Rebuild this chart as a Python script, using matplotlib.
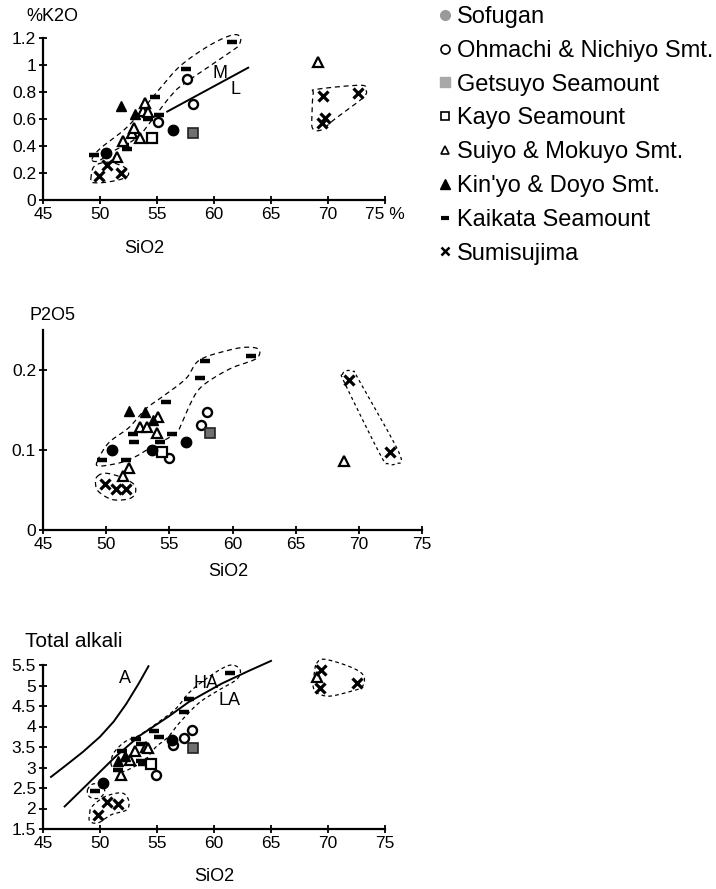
#!/usr/bin/env python3
"""Variation diagrams (K2O, P2O5, total alkali vs SiO2) for the arc volcanoes."""

import matplotlib

matplotlib.use("Agg")
import matplotlib.pyplot as plt
import numpy as np
from matplotlib.lines import Line2D

plt.rcParams["font.family"] = ["Liberation Sans", "DejaVu Sans"]

# ---- K2O panel -------------------------------------------------------------
K2O_SOFUGAN_SI = [50.5, 56.4]
K2O_SOFUGAN = [0.35, 0.52]
K2O_OHMACHI_SI = [55.1, 57.6, 58.2]
K2O_OHMACHI = [0.58, 0.90, 0.71]
K2O_GETSUYO_SI = [58.2]
K2O_GETSUYO = [0.50]
K2O_KAYO_SI = [54.6]
K2O_KAYO = [0.46]
K2O_SUIYO_SI = [51.45, 52.0, 52.8, 53.0, 53.5, 53.8, 53.95, 54.2, 69.15]
K2O_SUIYO = [0.315, 0.44, 0.50, 0.53, 0.46, 0.66, 0.72, 0.655, 1.02]
K2O_KINYO_SI = [51.8, 53.1]
K2O_KINYO = [0.70, 0.64]
K2O_KAIKATA_SI = [49.5, 52.1, 52.35, 54.2, 54.85, 55.2, 57.5, 61.6]
K2O_KAIKATA = [0.33, 0.41, 0.38, 0.60, 0.76, 0.63, 0.97, 1.17]
K2O_SUMI_SI = [49.9, 50.65, 51.8, 69.6, 72.6, 69.7, 69.45]
K2O_SUMI = [0.18, 0.26, 0.20, 0.77, 0.79, 0.61, 0.57]

ML_SI = [55.9, 63.0]
ML_K2O = [0.655, 0.98]

K2O_ENV_MAIN_SI = [49.3, 50.0, 52.5, 55.0, 57.0, 59.5, 61.5, 62.3, 62.2,
                   61.5, 57.5, 56.3, 54.9, 53.7, 52.7, 51.1, 49.9]
K2O_ENV_MAIN = [0.30, 0.38, 0.55, 0.80, 0.99, 1.14, 1.22, 1.21, 1.15,
                1.10, 0.87, 0.78, 0.63, 0.50, 0.43, 0.36, 0.29]
K2O_ENV_X_SI = [49.2, 49.5, 50.8, 52.2, 52.5, 51.9, 50.4, 49.3]
K2O_ENV_X = [0.155, 0.25, 0.28, 0.24, 0.19, 0.155, 0.13, 0.13]
K2O_ENV_R_SI = [68.7, 69.0, 72.8, 73.3, 73.1, 70.6, 69.45, 68.65, 68.6]
K2O_ENV_R = [0.79, 0.82, 0.85, 0.82, 0.76, 0.60, 0.52, 0.53, 0.64]

# ---- P2O5 panel ------------------------------------------------------------
P_SOFUGAN_SI = [50.5, 53.65, 56.35]
P_SOFUGAN = [0.100, 0.100, 0.110]
P_OHMACHI_SI = [55.0, 57.5, 58.0]
P_OHMACHI = [0.090, 0.131, 0.148]
P_GETSUYO_SI = [58.2]
P_GETSUYO = [0.121]
P_KAYO_SI = [54.45]
P_KAYO = [0.098]
P_SUIYO_SI = [51.35, 51.8, 52.7, 53.2, 54.0, 54.1, 68.8]
P_SUIYO = [0.067, 0.077, 0.129, 0.129, 0.121, 0.141, 0.086]
P_KINYO_SI = [51.8, 53.1, 53.7]
P_KINYO = [0.149, 0.148, 0.138]
P_KAIKATA_SI = [49.7, 51.55, 52.1, 52.2, 54.3, 54.7, 55.2, 57.45, 57.8, 61.45]
P_KAIKATA = [0.088, 0.088, 0.120, 0.110, 0.110, 0.160, 0.120, 0.190, 0.211, 0.218]
P_SUMI_SI = [49.9, 50.75, 51.6, 69.2, 72.5]
P_SUMI = [0.058, 0.051, 0.051, 0.188, 0.097]

P_ENV_MAIN_SI = [49.3, 50.2, 51.8, 53.1, 54.4, 56.3, 57.35, 59.5, 61.1, 62.1,
                 61.85, 60.0, 58.4, 57.35, 56.7, 56.0, 55.6, 54.7, 53.5, 52.6,
                 51.5, 50.5, 49.4]
P_ENV_MAIN = [0.086, 0.109, 0.128, 0.151, 0.166, 0.189, 0.212, 0.224, 0.2285,
              0.2255, 0.214, 0.203, 0.189, 0.176, 0.159, 0.134, 0.122, 0.113,
              0.103, 0.094, 0.086, 0.082, 0.080]
P_ENV_X_SI = [49.3, 49.95, 51.2, 52.2, 52.3, 51.8, 50.5, 49.4, 49.15]
P_ENV_X = [0.067, 0.071, 0.066, 0.057, 0.046, 0.039, 0.038, 0.048, 0.059]
P_ENV_R_SI = [68.7, 69.0, 69.6, 70.0, 73.2, 72.9, 72.3, 71.7, 68.9]
P_ENV_R = [0.194, 0.199, 0.198, 0.1875, 0.096, 0.083, 0.083, 0.094, 0.183]

# ---- Total alkali panel ----------------------------------------------------
T_SOFUGAN_SI = [50.3, 56.3]
T_SOFUGAN = [2.62, 3.68]
T_OHMACHI_SI = [54.9, 56.4, 57.4, 58.1]
T_OHMACHI = [2.82, 3.55, 3.72, 3.92]
T_GETSUYO_SI = [58.15]
T_GETSUYO = [3.47]
T_KAYO_SI = [54.5]
T_KAYO = [3.08]
T_SUIYO_SI = [51.8, 52.65, 53.1, 54.0, 54.2, 69.0]
T_SUIYO = [2.82, 3.19, 3.40, 3.51, 3.47, 5.21]
T_KINYO_SI = [51.6, 52.2]
T_KINYO = [3.17, 3.29]
T_KAIKATA_SI = [49.6, 51.55, 51.95, 53.15, 53.6, 53.6, 53.75, 54.7, 55.15,
                57.35, 57.85, 61.4]
T_KAIKATA = [2.42, 2.93, 3.41, 3.69, 3.57, 3.15, 3.08, 3.89, 3.75,
             4.36, 4.67, 5.30]
T_SUMI_SI = [50.6, 51.6, 49.85, 69.4, 69.3, 72.5]
T_SUMI = [2.17, 2.12, 1.85, 5.38, 4.95, 5.05]

A_LINE_SI = [45.7, 47.0, 48.5, 50.0, 51.2, 52.3, 53.4, 54.25]
A_LINE = [2.77, 3.05, 3.38, 3.75, 4.12, 4.55, 5.05, 5.47]
HALA_SI = [46.9, 49.0, 51.3, 53.5, 56.0, 57.8, 60.7, 63.0, 65.0]
HALA = [2.05, 2.62, 3.25, 3.78, 4.24, 4.60, 5.05, 5.35, 5.60]

T_ENV_MAIN_SI = [51.0, 51.2, 52.2, 53.4, 54.85, 56.6, 57.8, 59.0, 60.6, 61.6,
                 62.3, 62.0, 60.5, 58.7, 57.0, 56.0, 54.9, 54.0, 53.0, 51.9]
T_ENV_MAIN = [3.05, 3.35, 3.63, 3.78, 4.05, 4.42, 4.82, 5.10, 5.40, 5.50,
              5.38, 5.15, 4.90, 4.58, 4.10, 3.75, 3.50, 3.20, 3.02, 2.90]
T_ENV_LOW_SI = [48.9, 49.4, 50.2, 50.4, 49.9, 49.1]
T_ENV_LOW = [2.45, 2.60, 2.55, 2.40, 2.25, 2.28]
T_ENV_X_SI = [49.1, 49.3, 50.45, 51.9, 52.5, 52.35, 51.0, 49.85, 49.1]
T_ENV_X = [1.89, 2.05, 2.29, 2.38, 2.21, 1.97, 1.85, 1.65, 1.69]
T_ENV_R_SI = [69.0, 69.7, 71.9, 73.1, 73.0, 71.9, 70.15, 69.1, 68.7, 68.8]
T_ENV_R = [5.54, 5.64, 5.46, 5.25, 4.97, 4.85, 4.74, 4.81, 4.97, 5.30]

GROUPS = ["Sofugan", "Ohmachi & Nichiyo Smt.", "Getsuyo Seamount",
          "Kayo Seamount", "Suiyo & Mokuyo Smt.", "Kin'yo & Doyo Smt.",
          "Kaikata Seamount", "Sumisujima"]

STYLES = {
    "Sofugan": dict(marker="o", ms=7.5, mfc="black", mec="black"),
    "Ohmachi & Nichiyo Smt.": dict(marker="o", ms=6.5, mfc="white",
                                   mec="black", mew=1.7),
    "Getsuyo Seamount": dict(marker="s", ms=6.5, mfc="#6f6f6f", mec="#222222",
                             mew=1.2),
    "Kayo Seamount": dict(marker="s", ms=6.5, mfc="white", mec="black",
                          mew=1.6),
    "Suiyo & Mokuyo Smt.": dict(marker="^", ms=7, mfc="white", mec="black",
                                mew=1.6),
    "Kin'yo & Doyo Smt.": dict(marker="^", ms=7.5, mfc="black", mec="black"),
    "Kaikata Seamount": dict(marker="_", ms=6.5, mec="black", mew=3.2),
    "Sumisujima": dict(marker="x", ms=7, mec="black", mew=2.3),
}

LEGEND_STYLES = {
    "Sofugan": dict(marker="o", ms=7, mfc="#9a9a9a", mec="#9a9a9a"),
    "Ohmachi & Nichiyo Smt.": dict(marker="o", ms=6.5, mfc="white",
                                   mec="black", mew=1.2),
    "Getsuyo Seamount": dict(marker="s", ms=6.5, mfc="#a8a8a8", mec="#a8a8a8"),
    "Kayo Seamount": dict(marker="s", ms=6, mfc="white", mec="black", mew=1.2),
    "Suiyo & Mokuyo Smt.": dict(marker="^", ms=6, mfc="white", mec="black",
                                mew=1.2),
    "Kin'yo & Doyo Smt.": dict(marker="^", ms=7, mfc="black", mec="black"),
    "Kaikata Seamount": dict(marker="_", ms=6, mec="black", mew=3.0),
    "Sumisujima": dict(marker="x", ms=6, mec="black", mew=1.8),
}


def smooth_closed(xs, ys, n=24):
  """Closed Catmull-Rom outline through the traced envelope vertices."""
  pts = np.column_stack([xs, ys]).astype(float)
  k = len(pts)
  t = np.linspace(0, 1, n, endpoint=False)[:, None]
  out = []
  for i in range(k):
    p0, p1, p2, p3 = pts[(i - 1) % k], pts[i], pts[(i + 1) % k], pts[(i + 2) % k]
    out.append(0.5 * (2 * p1 + (-p0 + p2) * t
                      + (2 * p0 - 5 * p1 + 4 * p2 - p3) * t ** 2
                      + (-p0 + 3 * p1 - 3 * p2 + p3) * t ** 3))
  out.append(pts[:1])
  out = np.vstack(out)
  return out[:, 0], out[:, 1]


def envelope(ax, xs, ys, dashes=(4, 3)):
  sx, sy = smooth_closed(xs, ys)
  ax.plot(sx, sy, color="black", lw=0.9, dashes=dashes, zorder=1,
          clip_on=False)


def style_axes(ax, xlim, ylim, yticks, ylabels, xlabels):
  ax.set_xlim(*xlim)
  ax.set_ylim(*ylim)
  for side in ("top", "right"):
    ax.spines[side].set_visible(False)
  for side in ("left", "bottom"):
    ax.spines[side].set_linewidth(1.6)
  ax.set_xticks(np.arange(45, 76, 5))
  ax.set_xticklabels(xlabels)
  ax.set_yticks(yticks)
  ax.set_yticklabels(ylabels)
  ax.tick_params(direction="inout", length=6, width=1.3, labelsize=12.5,
                 pad=2)
  ax.patch.set_alpha(0)


def draw_points(ax, series):
  for name, xs, ys in series:
    ax.plot(xs, ys, linestyle="none", zorder=3, clip_on=False, **STYLES[name])


fig = plt.figure(figsize=(7.16, 8.89), dpi=100)
W, H = 716.0, 889.0
ax1 = fig.add_axes([43 / W, 1 - 200 / H, 342 / W, 162 / H])
ax2 = fig.add_axes([43 / W, 1 - 530 / H, 379 / W, 200 / H])
ax3 = fig.add_axes([43 / W, 1 - 829 / H, 342 / W, 164 / H])

xnums = ["45", "50", "55", "60", "65", "70", "75"]

# K2O
style_axes(ax1, (45, 75), (0, 1.2), np.arange(0, 1.21, 0.2),
           ["0", "0.2", "0.4", "0.6", "0.8", "1", "1.2"],
           xnums[:-1] + ["75 %"])
envelope(ax1, K2O_ENV_MAIN_SI, K2O_ENV_MAIN)
envelope(ax1, K2O_ENV_X_SI, K2O_ENV_X)
envelope(ax1, K2O_ENV_R_SI, K2O_ENV_R)
ax1.plot(ML_SI, ML_K2O, color="black", lw=1.4)
ax1.text(60.5, 0.94, "M", fontsize=13, ha="center", va="center")
ax1.text(61.9, 0.82, "L", fontsize=13, ha="center", va="center")
draw_points(ax1, [
    ("Kaikata Seamount", K2O_KAIKATA_SI, K2O_KAIKATA),
    ("Suiyo & Mokuyo Smt.", K2O_SUIYO_SI, K2O_SUIYO),
    ("Kin'yo & Doyo Smt.", K2O_KINYO_SI, K2O_KINYO),
    ("Ohmachi & Nichiyo Smt.", K2O_OHMACHI_SI, K2O_OHMACHI),
    ("Getsuyo Seamount", K2O_GETSUYO_SI, K2O_GETSUYO),
    ("Kayo Seamount", K2O_KAYO_SI, K2O_KAYO),
    ("Sofugan", K2O_SOFUGAN_SI, K2O_SOFUGAN),
    ("Sumisujima", K2O_SUMI_SI, K2O_SUMI),
])
ax1.text(0.026, 1.13, "%K2O", transform=ax1.transAxes, fontsize=13,
         ha="center", va="center")
ax1.text(0.295, -0.30, "SiO2", transform=ax1.transAxes, fontsize=13,
         ha="center", va="center")

# P2O5
style_axes(ax2, (45, 75), (0, 0.25), [0, 0.1, 0.2], ["0", "0.1", "0.2"], xnums)
envelope(ax2, P_ENV_MAIN_SI, P_ENV_MAIN)
envelope(ax2, P_ENV_X_SI, P_ENV_X)
envelope(ax2, P_ENV_R_SI, P_ENV_R, dashes=(2.5, 2.5))
draw_points(ax2, [
    ("Kaikata Seamount", P_KAIKATA_SI, P_KAIKATA),
    ("Suiyo & Mokuyo Smt.", P_SUIYO_SI, P_SUIYO),
    ("Kin'yo & Doyo Smt.", P_KINYO_SI, P_KINYO),
    ("Ohmachi & Nichiyo Smt.", P_OHMACHI_SI, P_OHMACHI),
    ("Getsuyo Seamount", P_GETSUYO_SI, P_GETSUYO),
    ("Kayo Seamount", P_KAYO_SI, P_KAYO),
    ("Sofugan", P_SOFUGAN_SI, P_SOFUGAN),
    ("Sumisujima", P_SUMI_SI, P_SUMI),
])
ax2.text(0.026, 1.075, "P2O5", transform=ax2.transAxes, fontsize=13,
         ha="center", va="center")
ax2.text(0.49, -0.21, "SiO2", transform=ax2.transAxes, fontsize=13,
         ha="center", va="center")

# Total alkali
style_axes(ax3, (45, 75), (1.5, 5.5), np.arange(1.5, 5.51, 0.5),
           ["1.5", "2", "2.5", "3", "3.5", "4", "4.5", "5", "5.5"], xnums)
envelope(ax3, T_ENV_MAIN_SI, T_ENV_MAIN, dashes=(3, 2.5))
envelope(ax3, T_ENV_LOW_SI, T_ENV_LOW, dashes=(3, 2.5))
envelope(ax3, T_ENV_X_SI, T_ENV_X, dashes=(3, 2.5))
envelope(ax3, T_ENV_R_SI, T_ENV_R, dashes=(3, 2.5))
ax3.plot(A_LINE_SI, A_LINE, color="black", lw=1.4, clip_on=False)
ax3.plot(HALA_SI, HALA, color="black", lw=1.4, clip_on=False)
ax3.text(52.15, 5.17, "A", fontsize=13, ha="center", va="center")
ax3.text(59.3, 5.04, "HA", fontsize=13, ha="center", va="center")
ax3.text(61.4, 4.63, "LA", fontsize=13, ha="center", va="center")
draw_points(ax3, [
    ("Kaikata Seamount", T_KAIKATA_SI, T_KAIKATA),
    ("Suiyo & Mokuyo Smt.", T_SUIYO_SI, T_SUIYO),
    ("Kin'yo & Doyo Smt.", T_KINYO_SI, T_KINYO),
    ("Ohmachi & Nichiyo Smt.", T_OHMACHI_SI, T_OHMACHI),
    ("Getsuyo Seamount", T_GETSUYO_SI, T_GETSUYO),
    ("Kayo Seamount", T_KAYO_SI, T_KAYO),
    ("Sofugan", T_SOFUGAN_SI, T_SOFUGAN),
    ("Sumisujima", T_SUMI_SI, T_SUMI),
])
ax3.text(0.09, 1.146, "Total alkali", transform=ax3.transAxes, fontsize=15,
         ha="center", va="center")
ax3.text(0.50, -0.29, "SiO2", transform=ax3.transAxes, fontsize=13,
         ha="center", va="center")

handles = [Line2D([], [], linestyle="none", **LEGEND_STYLES[g]) for g in GROUPS]
fig.legend(handles, GROUPS, loc="upper left", bbox_to_anchor=(437 / W, 1 - 6 / H),
           frameon=False, fontsize=17, handlelength=0.65, handletextpad=0.2,
           labelspacing=0.5, borderpad=0, borderaxespad=0)

fig.savefig("out.png", dpi=100)
